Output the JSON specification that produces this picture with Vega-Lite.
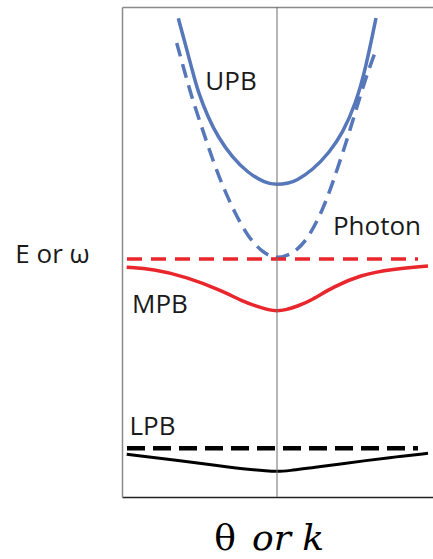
{
  "$schema": "https://vega.github.io/schema/vega-lite/v6.json",
  "width": 311,
  "height": 490,
  "autosize": {"type": "none"},
  "padding": {"left": 122, "top": 7, "right": 0, "bottom": 62},
  "background": "white",
  "config": {
    "view": {"stroke": null},
    "axis": {"grid": false, "ticks": false, "labels": false}
  },
  "datasets": {
    "upb": [
      {"x": -98.7, "y": 478.7}, {"x": -92, "y": 454}, {"x": -85.3, "y": 429}, {"x": -79, "y": 405},
      {"x": -69, "y": 380}, {"x": -59, "y": 360}, {"x": -45, "y": 340}, {"x": -29, "y": 324},
      {"x": -12, "y": 314}, {"x": 0, "y": 312}, {"x": 12, "y": 314}, {"x": 19, "y": 316}, {"x": 35.7, "y": 327},
      {"x": 52, "y": 344}, {"x": 65.7, "y": 364}, {"x": 79, "y": 394}, {"x": 89, "y": 430},
      {"x": 99, "y": 479}
    ],
    "photon": [
      {"x": -100.3, "y": 454}, {"x": -92, "y": 424}, {"x": -85.3, "y": 400}, {"x": -75.3, "y": 370},
      {"x": -65.3, "y": 340}, {"x": -54, "y": 310}, {"x": -42, "y": 284}, {"x": -29, "y": 260},
      {"x": -15, "y": 245}, {"x": 0, "y": 237}, {"x": 19, "y": 245}, {"x": 32, "y": 260},
      {"x": 45.7, "y": 287}, {"x": 55.7, "y": 314}, {"x": 69, "y": 354}, {"x": 79, "y": 387},
      {"x": 89, "y": 420}, {"x": 99, "y": 447}
    ],
    "exciton": [{"x": -150, "y": 238}, {"x": 141, "y": 238}],
    "mpb": [
      {"x": -150.3, "y": 229.7}, {"x": -124, "y": 228}, {"x": -90, "y": 220}, {"x": -57, "y": 207},
      {"x": -35, "y": 196}, {"x": -20, "y": 190.5}, {"x": -8, "y": 187}, {"x": 0, "y": 186},
      {"x": 8, "y": 187}, {"x": 20, "y": 190.5}, {"x": 35, "y": 197}, {"x": 56, "y": 210},
      {"x": 83, "y": 222}, {"x": 116, "y": 228}, {"x": 151, "y": 231}
    ],
    "exciton2": [{"x": -150, "y": 48.7}, {"x": 141, "y": 48.7}],
    "lpb": [
      {"x": -150.3, "y": 42.7}, {"x": -90, "y": 35.3}, {"x": -60, "y": 31.5}, {"x": -30, "y": 27.7},
      {"x": -10, "y": 26}, {"x": 0, "y": 25.5}, {"x": 10, "y": 26}, {"x": 43, "y": 30.3},
      {"x": 93, "y": 37}, {"x": 118, "y": 40}, {"x": 151, "y": 43.7}
    ],
    "one": [{}]
  },
  "resolve": {"axis": {"x": "independent"}},
  "layer": [
    {
      "data": {"name": "upb"},
      "mark": {"type": "line", "color": "#5677b9", "strokeWidth": 3.5, "interpolate": "basis"},
      "encoding": {
        "x": {"field": "x", "type": "quantitative", "scale": {"domain": [-155, 156], "nice": false, "zero": false},
              "axis": {"orient": "bottom", "domain": true, "domainColor": "#222222", "domainWidth": 1.5, "title": null}},
        "y": {"field": "y", "type": "quantitative", "scale": {"domain": [0, 490], "nice": false, "zero": false},
              "axis": {"title": "E or ω", "domain": true, "domainColor": "#8a8a8a", "domainWidth": 1.5,
                       "titleAngle": 0, "titleX": -70, "titleY": 255, "titleAlign": "center", "titleBaseline": "alphabetic",
                       "titleFont": "Open Sans", "titleFontSize": 26, "titleFontWeight": "normal", "titleColor": "#1a1a1a"}}
      }
    },
    {
      "data": {"name": "photon"},
      "mark": {"type": "line", "color": "#5677b9", "strokeWidth": 3.5, "strokeDash": [14, 8], "interpolate": "basis"},
      "encoding": {
        "x": {"field": "x", "type": "quantitative", "scale": {"domain": [-155, 156], "nice": false, "zero": false},
              "axis": {"orient": "top", "domain": true, "domainColor": "#8a8a8a", "domainWidth": 1.5, "title": null}},
        "y": {"field": "y", "type": "quantitative"}
      }
    },
    {
      "data": {"name": "exciton"},
      "mark": {"type": "line", "color": "#e8262b", "strokeWidth": 3.5, "strokeDash": [15, 9]},
      "encoding": {
        "x": {"field": "x", "type": "quantitative", "axis": null},
        "y": {"field": "y", "type": "quantitative"}
      }
    },
    {
      "data": {"name": "mpb"},
      "mark": {"type": "line", "color": "#e8262b", "strokeWidth": 3.5, "interpolate": "basis"},
      "encoding": {
        "x": {"field": "x", "type": "quantitative", "axis": null},
        "y": {"field": "y", "type": "quantitative"}
      }
    },
    {
      "data": {"name": "exciton2"},
      "mark": {"type": "line", "color": "#000000", "strokeWidth": 4.5, "strokeDash": [18, 8]},
      "encoding": {
        "x": {"field": "x", "type": "quantitative", "axis": null},
        "y": {"field": "y", "type": "quantitative"}
      }
    },
    {
      "data": {"name": "lpb"},
      "mark": {"type": "line", "color": "#000000", "strokeWidth": 3, "interpolate": "basis"},
      "encoding": {
        "x": {"field": "x", "type": "quantitative", "axis": null},
        "y": {"field": "y", "type": "quantitative"}
      }
    },
    {
      "data": {"name": "one"},
      "mark": {"type": "rule", "color": "#6e6e6e", "strokeWidth": 1},
      "encoding": {"x": {"datum": 0, "type": "quantitative", "axis": null}}
    },
    {
      "data": {"name": "one"},
      "mark": {"type": "text", "text": "UPB", "font": "Open Sans", "fontSize": 26, "align": "center", "baseline": "alphabetic", "color": "#1a1a1a"},
      "encoding": {"x": {"datum": -46, "type": "quantitative", "axis": null}, "y": {"datum": 407, "type": "quantitative"}}
    },
    {
      "data": {"name": "one"},
      "mark": {"type": "text", "text": "Photon", "font": "Open Sans", "fontSize": 26, "align": "center", "baseline": "alphabetic", "color": "#1a1a1a"},
      "encoding": {"x": {"datum": 100, "type": "quantitative", "axis": null}, "y": {"datum": 262, "type": "quantitative"}}
    },
    {
      "data": {"name": "one"},
      "mark": {"type": "text", "text": "MPB", "font": "Open Sans", "fontSize": 26, "align": "center", "baseline": "alphabetic", "color": "#1a1a1a"},
      "encoding": {"x": {"datum": -117, "type": "quantitative", "axis": null}, "y": {"datum": 184, "type": "quantitative"}}
    },
    {
      "data": {"name": "one"},
      "mark": {"type": "text", "text": "LPB", "font": "Open Sans", "fontSize": 26, "align": "center", "baseline": "alphabetic", "color": "#1a1a1a"},
      "encoding": {"x": {"datum": -124.5, "type": "quantitative", "axis": null}, "y": {"datum": 62, "type": "quantitative"}}
    },
    {
      "data": {"name": "one"},
      "mark": {"type": "text", "text": "θ", "font": "DejaVu Serif", "fontSize": 36, "align": "center", "baseline": "alphabetic", "color": "#000000"},
      "encoding": {"x": {"datum": -52, "type": "quantitative", "axis": null}, "y": {"datum": -53, "type": "quantitative"}}
    },
    {
      "data": {"name": "one"},
      "mark": {"type": "text", "text": "or k", "font": "DejaVu Serif", "fontSize": 36, "fontStyle": "italic", "align": "left", "baseline": "alphabetic", "color": "#000000"},
      "encoding": {"x": {"datum": -25, "type": "quantitative", "axis": null}, "y": {"datum": -53, "type": "quantitative"}}
    }
  ]
}
